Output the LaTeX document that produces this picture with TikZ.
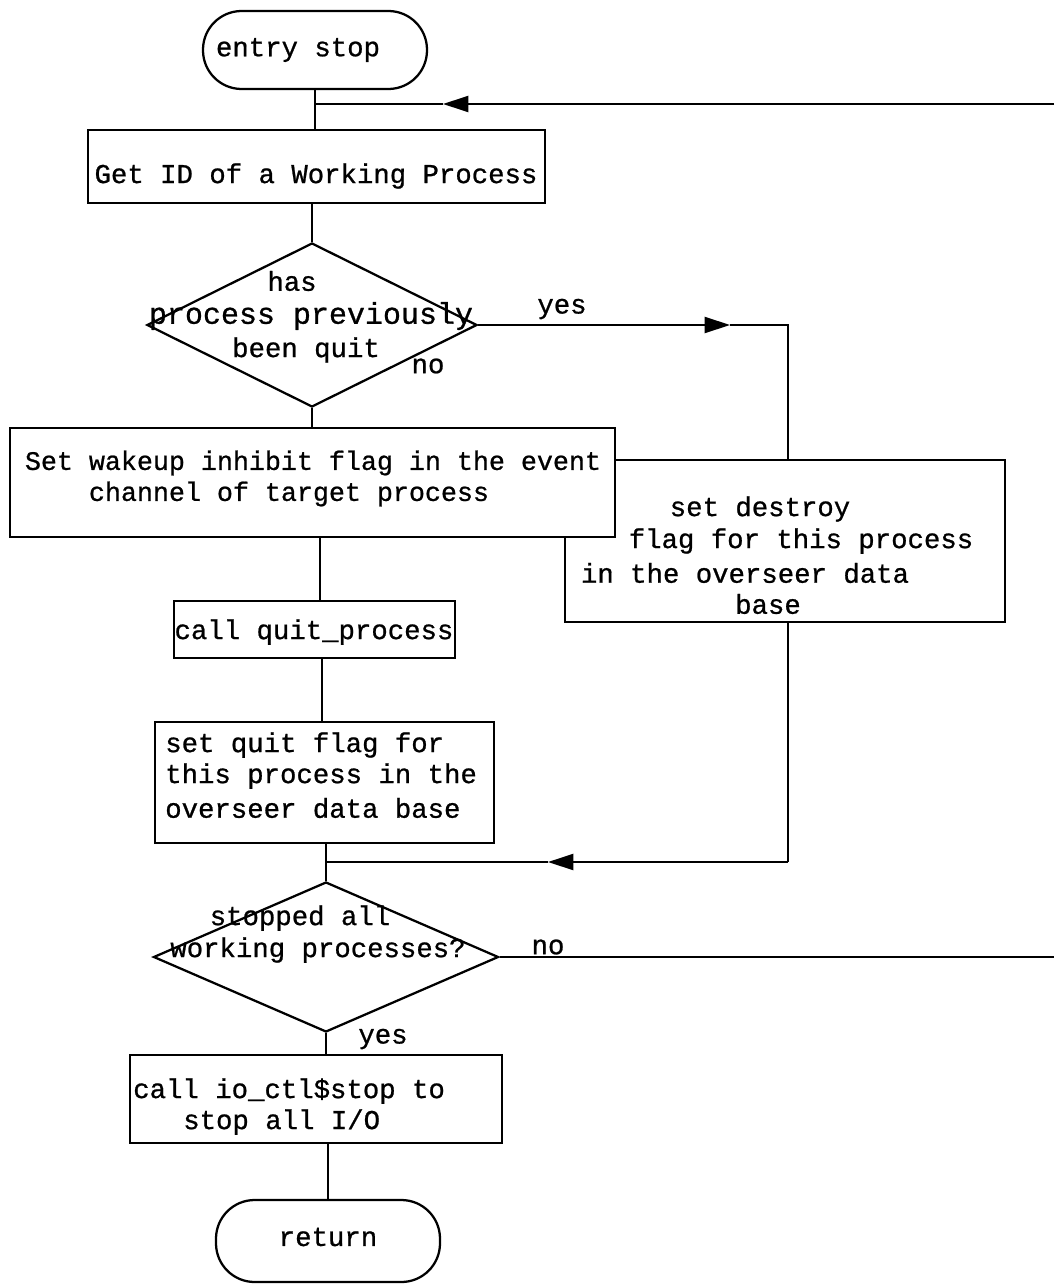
\documentclass[tikz,border=0pt]{standalone}
\usepackage{fontspec}
\setmainfont{Liberation Mono}[FakeBold=0.8]
\usetikzlibrary{shapes.geometric,arrows.meta}
\begin{document}
\begin{tikzpicture}[x=0.75pt,y=-0.75pt,
  flow/.style={draw, line width=1.7pt},
  box/.style={flow, rectangle, inner sep=0pt, fill=white},
  term/.style={box, rounded corners=29pt},
  decision/.style={flow, diamond, inner sep=0pt},
  txt/.style={font=\fontsize{20.5}{24}\selectfont, inner sep=0pt},
  link/.style={line width=1.7pt},
  head/.style={-{Triangle[length=19pt,width=12pt]}}]
\useasboundingbox[fill=white] (0,0) rectangle (1054,1284);

% boxes and terminals
\node[term, minimum width=168pt, minimum height=58.5pt] (entry) at (315,50) {};
\node[box, minimum width=342.75pt, minimum height=54.75pt] (getid) at (316.5,166.5) {};
\node[decision, minimum width=247.5pt, minimum height=123pt] (d1) at (312,325) {};
\node[box, minimum width=330pt, minimum height=121.5pt] (destroy) at (785,541) {};
\node[box, minimum width=453.75pt, minimum height=81.75pt] (wakeup) at (312.5,482.5) {};
\node[box, minimum width=210.75pt, minimum height=42.75pt] (quitproc) at (314.5,629.5) {};
\node[box, minimum width=254.25pt, minimum height=90.75pt] (quitflag) at (324.5,782.5) {};
\node[decision, minimum width=258.75pt, minimum height=112.5pt] (d2) at (326,957) {};
\node[box, minimum width=279pt, minimum height=66pt] (ioctl) at (316,1099) {};
\node[term, minimum width=168pt, minimum height=61.5pt] (ret) at (328,1241) {};

% texts
\node[txt] (tentry) at (298,50) {entry stop};
\node[txt] (tgetid) at (316,176) {Get ID of a Working Process};
\node[txt] (tq1) at (292,281) {has};
\node[txt, font=\fontsize{22.5}{26}\selectfont] (tq2) at (311,316) {process previously};
\node[txt] (tq3) at (306,350) {been quit};
\node[txt] (tno1) at (428,366) {no};
\node[txt] (tyes1) at (562,309) {yes};
\node[txt, font=\fontsize{20}{24}\selectfont] (tw1) at (313,463) {Set wakeup inhibit flag in the event};
\node[txt, font=\fontsize{20}{24}\selectfont] (tw2) at (289,494) {channel of target process};
\node[txt] (td1) at (760,509) {set destroy};
\node[txt] (td2) at (801,541) {flag for this process};
\node[txt] (td3) at (745,573) {in the overseer data};
\node[txt] (td4) at (768,604) {base};
\node[txt] (tqp) at (314,632) {call quit\_process};
\node[txt, anchor=west] (tf1) at (165,745) {set quit flag for};
\node[txt, anchor=west] (tf2) at (165,776) {this process in the};
\node[txt, anchor=west] (tf3) at (165,808) {overseer data base};
\node[txt] (ts1) at (300,918) {stopped all};
\node[txt] (ts2) at (318,950) {working processes?};
\node[txt] (tno2) at (548,947) {no};
\node[txt] (tyes2) at (383,1039) {yes};
\node[txt, anchor=west] (ti1) at (133,1091) {call io\_ctl\$stop to};
\node[txt, anchor=west] (ti2) at (183,1122) {stop all I/O};
\node[txt] (tret) at (328,1237) {return};

% loop-back entry from the right
\coordinate (inR) at (1054,104);
\coordinate (inA) at (443,104);
\coordinate (inJ) at (315,104);
\draw[link] (entry.south) -- (entry.south |- getid.north);
\draw[link, head] (inR) -- (inA);
\draw[link] (inA) -- (inJ);

\draw[link] (d1.north |- getid.south) -- (d1.north);

% yes branch to destroy flag
\coordinate (yA) at (730,325);
\coordinate (yC) at (788,325);
\draw[link, head] (d1.east) -- (yA);
\draw[link] (yA) -- (yC) -- (yC |- destroy.north);

% no branch
\coordinate (wq) at (320,537);
\draw[link] (d1.south) -- (d1.south |- wakeup.north);
\draw[link] (wq) -- (wq |- quitproc.north);
\draw[link] (322,658) -- (322,722);

% merge into second decision
\coordinate (mC) at (788,862);
\coordinate (mA) at (548,862);
\draw[link] (d2.north |- quitflag.south) -- (d2.north);
\draw[link] (mC |- destroy.south) -- (mC);
\draw[link, head] (mC) -- (mA);
\draw[link] (mA) -- (d2.north |- mC);

% no: back to the top
\coordinate (oR) at (1054,957);
\draw[link] (d2.east) -- (oR);

% yes: stop I/O and return
\draw[link] (d2.south) -- (d2.south |- ioctl.north);
\draw[link] (ret.north |- ioctl.south) -- (ret.north);
\end{tikzpicture}
\end{document}
